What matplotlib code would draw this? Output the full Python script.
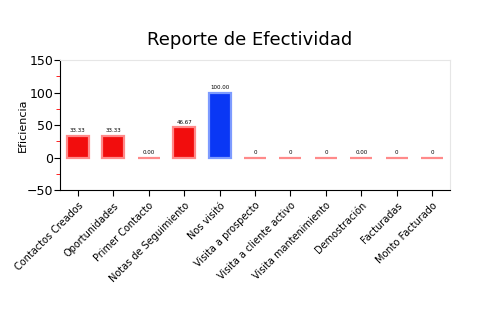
import matplotlib
matplotlib.use("Agg")
import matplotlib.pyplot as plt
import numpy as np
from matplotlib.ticker import MultipleLocator

categorias = ["Contactos Creados", "Oportunidades", "Primer Contacto",
              "Notas de Seguimiento", "Nos visitó", "Visita a prospecto",
              "Visita a cliente activo", "Visita mantenimiento",
              "Demostración", "Facturadas", "Monto Facturado"]
valores = [33.33, 33.33, 0.00, 46.67, 100.00, 0, 0, 0, 0.00, 0, 0]
etiquetas = ["33.33", "33.33", "0.00", "46.67", "100.00", "0", "0", "0",
             "0.00", "0", "0"]
colores = ["#f20d0d", "#f20d0d", "#f20d0d", "#f20d0d", "#0a37f5", "#f20d0d",
           "#f20d0d", "#f20d0d", "#f20d0d", "#f20d0d", "#f20d0d"]
bordes = ["#ff8a8a", "#ff8a8a", "#ff8a8a", "#ff8a8a", "#7d9bff", "#ff8a8a",
          "#ff8a8a", "#ff8a8a", "#ff8a8a", "#ff8a8a", "#ff8a8a"]

fig = plt.figure(figsize=(5, 3.3), dpi=100)
ax = fig.add_axes([0.12, 0.424, 0.78, 0.394])

x = np.arange(len(categorias))
ax.bar(x, valores, width=0.62, color=colores, edgecolor=bordes, linewidth=1.6)
for xi, v, t in zip(x, valores, etiquetas):
    ax.text(xi, v + 4, t, ha="center", va="bottom", fontsize=4)

ax.set_xlim(-0.5, 10.5)
ax.set_ylim(-50, 150)
ax.yaxis.set_major_locator(MultipleLocator(50))
ax.yaxis.set_minor_locator(MultipleLocator(25))
ax.tick_params(axis="y", which="minor", length=3, color="red")
ax.tick_params(axis="both", which="major", length=4, labelsize=9)
ax.tick_params(axis="y", which="major", pad=1)
ax.set_xticks(x)
ax.set_xticklabels(categorias, rotation=45, ha="right", rotation_mode="anchor",
                   fontsize=7)
ax.set_ylabel("Eficiencia", fontsize=8, labelpad=-1)

for s in ["top", "right"]:
    ax.spines[s].set_color("#e6e6e6")
    ax.spines[s].set_linewidth(0.8)

fig.suptitle("Reporte de Efectividad", fontsize=13, y=0.905)
fig.savefig("out.png", dpi=100)
